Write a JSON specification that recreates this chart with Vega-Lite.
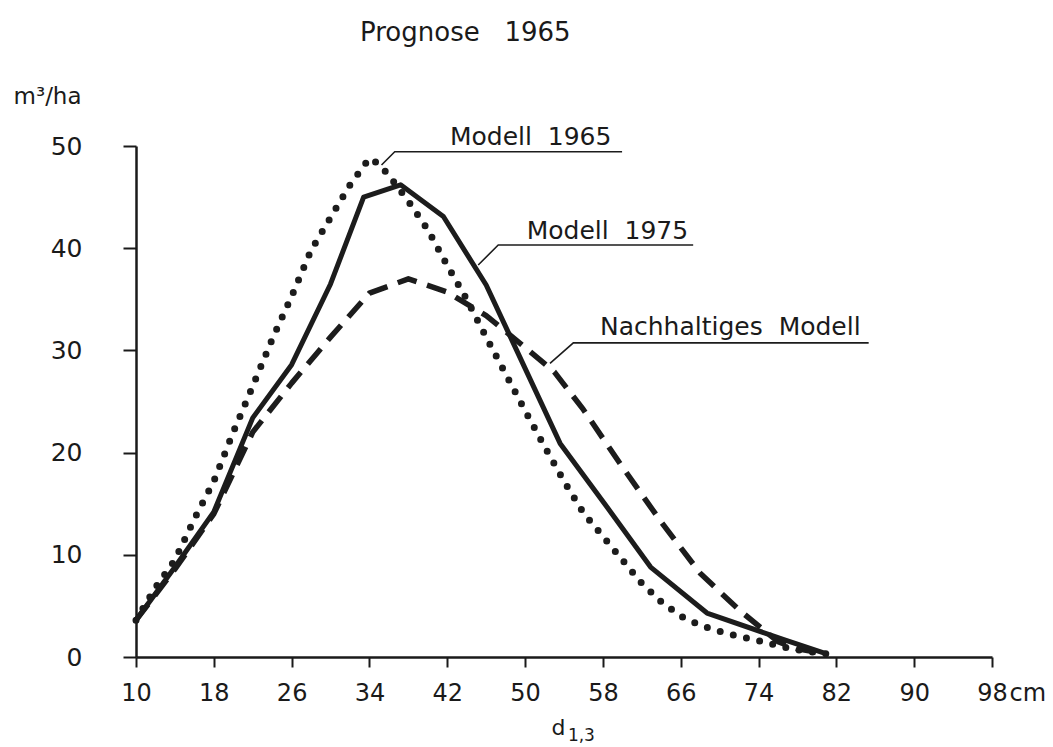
{
  "$schema": "https://vega.github.io/schema/vega-lite/v6.json",
  "autosize": {"type": "none"},
  "padding": {"left": 136, "top": 146, "right": 61, "bottom": 90},
  "width": 856,
  "height": 511,
  "background": "white",
  "config": {"view": {"stroke": null}, "font": "DejaVu Sans"},
  "title": {"text": "Prognose\u00a0\u00a0 1965", "anchor": "start", "frame": "group", "dx": 224, "offset": 18, "baseline": "alphabetic", "fontSize": 26, "fontWeight": "normal", "color": "#1a1a1a", "font": "DejaVu Sans"},
  "datasets": {
    "curves": [
      {"series": "Modell 1975", "d": 10, "v": 3.6},
      {"series": "Modell 1975", "d": 14, "v": 8.8},
      {"series": "Modell 1975", "d": 18, "v": 14.2},
      {"series": "Modell 1975", "d": 22, "v": 23.4},
      {"series": "Modell 1975", "d": 26, "v": 28.6},
      {"series": "Modell 1975", "d": 30, "v": 36.5},
      {"series": "Modell 1975", "d": 33.4, "v": 45.0},
      {"series": "Modell 1975", "d": 37.2, "v": 46.2},
      {"series": "Modell 1975", "d": 41.6, "v": 43.1},
      {"series": "Modell 1975", "d": 46, "v": 36.4},
      {"series": "Modell 1975", "d": 53.6, "v": 20.9},
      {"series": "Modell 1975", "d": 58.4, "v": 14.7},
      {"series": "Modell 1975", "d": 62.9, "v": 8.8},
      {"series": "Modell 1975", "d": 68.7, "v": 4.3},
      {"series": "Modell 1975", "d": 76.6, "v": 1.7},
      {"series": "Modell 1975", "d": 81, "v": 0.3},
      {"series": "Modell 1965", "d": 10, "v": 3.6},
      {"series": "Modell 1965", "d": 12, "v": 6.8},
      {"series": "Modell 1965", "d": 14, "v": 9.5},
      {"series": "Modell 1965", "d": 16, "v": 13.5},
      {"series": "Modell 1965", "d": 18, "v": 17.2},
      {"series": "Modell 1965", "d": 20, "v": 22.0},
      {"series": "Modell 1965", "d": 22, "v": 26.5},
      {"series": "Modell 1965", "d": 24, "v": 31.1},
      {"series": "Modell 1965", "d": 26, "v": 35.3},
      {"series": "Modell 1965", "d": 28, "v": 39.8},
      {"series": "Modell 1965", "d": 30, "v": 43.0},
      {"series": "Modell 1965", "d": 32, "v": 46.2},
      {"series": "Modell 1965", "d": 34, "v": 48.8},
      {"series": "Modell 1965", "d": 35, "v": 48.2},
      {"series": "Modell 1965", "d": 36, "v": 47.1},
      {"series": "Modell 1965", "d": 38, "v": 44.6},
      {"series": "Modell 1965", "d": 40, "v": 41.8},
      {"series": "Modell 1965", "d": 42, "v": 38.3},
      {"series": "Modell 1965", "d": 44, "v": 35.0},
      {"series": "Modell 1965", "d": 46, "v": 31.3},
      {"series": "Modell 1965", "d": 48, "v": 27.7},
      {"series": "Modell 1965", "d": 50, "v": 24.1},
      {"series": "Modell 1965", "d": 52, "v": 20.6},
      {"series": "Modell 1965", "d": 54, "v": 17.2},
      {"series": "Modell 1965", "d": 56, "v": 14.1},
      {"series": "Modell 1965", "d": 58, "v": 11.8},
      {"series": "Modell 1965", "d": 60, "v": 9.5},
      {"series": "Modell 1965", "d": 62, "v": 7.2},
      {"series": "Modell 1965", "d": 64, "v": 5.4},
      {"series": "Modell 1965", "d": 66, "v": 4.0},
      {"series": "Modell 1965", "d": 68, "v": 3.1},
      {"series": "Modell 1965", "d": 70, "v": 2.5},
      {"series": "Modell 1965", "d": 72, "v": 2.0},
      {"series": "Modell 1965", "d": 74, "v": 1.6},
      {"series": "Modell 1965", "d": 76, "v": 1.1},
      {"series": "Modell 1965", "d": 78, "v": 0.7},
      {"series": "Modell 1965", "d": 81, "v": 0.3},
      {"series": "Nachhaltiges Modell", "d": 10, "v": 3.6},
      {"series": "Nachhaltiges Modell", "d": 14, "v": 8.6},
      {"series": "Nachhaltiges Modell", "d": 18, "v": 14.0},
      {"series": "Nachhaltiges Modell", "d": 22, "v": 22.0},
      {"series": "Nachhaltiges Modell", "d": 26, "v": 26.8},
      {"series": "Nachhaltiges Modell", "d": 30, "v": 31.3},
      {"series": "Nachhaltiges Modell", "d": 34, "v": 35.6},
      {"series": "Nachhaltiges Modell", "d": 38, "v": 37.0},
      {"series": "Nachhaltiges Modell", "d": 42, "v": 35.7},
      {"series": "Nachhaltiges Modell", "d": 46, "v": 33.4},
      {"series": "Nachhaltiges Modell", "d": 50, "v": 30.3},
      {"series": "Nachhaltiges Modell", "d": 53, "v": 27.9},
      {"series": "Nachhaltiges Modell", "d": 56, "v": 24.2},
      {"series": "Nachhaltiges Modell", "d": 60, "v": 18.6},
      {"series": "Nachhaltiges Modell", "d": 64, "v": 13.2},
      {"series": "Nachhaltiges Modell", "d": 68, "v": 8.2},
      {"series": "Nachhaltiges Modell", "d": 72, "v": 4.6},
      {"series": "Nachhaltiges Modell", "d": 76, "v": 1.5},
      {"series": "Nachhaltiges Modell", "d": 78, "v": 0.8},
      {"series": "Nachhaltiges Modell", "d": 81, "v": 0.3}
    ],
    "leaders": [
      {"label": "Modell 1965", "d": 35.24, "v": 48.14},
      {"label": "Modell 1965", "d": 36.6, "v": 49.44},
      {"label": "Modell 1965", "d": 59.97, "v": 49.44},
      {"label": "Modell 1975", "d": 45.18, "v": 38.36},
      {"label": "Modell 1975", "d": 47.24, "v": 40.31},
      {"label": "Modell 1975", "d": 67.28, "v": 40.31},
      {"label": "Nachhaltiges Modell", "d": 52.56, "v": 28.74},
      {"label": "Nachhaltiges Modell", "d": 54.96, "v": 30.74},
      {"label": "Nachhaltiges Modell", "d": 85.32, "v": 30.74}
    ],
    "texts": [
      {"kind": "label", "text": "Modell\u00a0 1965", "d": 42.27, "v": 50.1},
      {"kind": "label", "text": "Modell\u00a0 1975", "d": 50.16, "v": 40.87},
      {"kind": "label", "text": "Nachhaltiges\u00a0 Modell", "d": 57.7, "v": 31.5},
      {"kind": "unit", "text": "cm", "d": 99.8, "v": -4.3},
      {"kind": "sub", "text": "1,3", "d": 54.4, "v": -8.2}
    ]
  },
  "encoding": {
    "x": {
      "field": "d", "type": "quantitative",
      "scale": {"domain": [10, 98], "nice": false, "zero": false},
      "axis": {
        "values": [10, 18, 26, 34, 42, 50, 58, 66, 74, 82, 90, 98],
        "title": "d", "titleX": 422, "titleY": 77, "titleAlign": "center", "titleBaseline": "alphabetic",
        "titleFontSize": 22, "titleFontWeight": "normal", "titleColor": "#1a1a1a", "titleFont": "DejaVu Sans",
        "labelFontSize": 24, "labelPadding": 14, "labelColor": "#1a1a1a", "labelFont": "DejaVu Sans", "labelFlush": false,
        "tickSize": 10, "tickWidth": 2, "tickColor": "#1a1a1a",
        "domainWidth": 2.5, "domainColor": "#1a1a1a", "grid": false
      }
    },
    "y": {
      "field": "v", "type": "quantitative",
      "scale": {"domain": [0, 50], "nice": false, "zero": false},
      "axis": {
        "values": [0, 10, 20, 30, 40, 50],
        "title": "m³/ha", "titleAngle": 0, "titleX": -123, "titleY": -43, "titleAlign": "left", "titleBaseline": "alphabetic",
        "titleFontSize": 23, "titleFontWeight": "normal", "titleColor": "#1a1a1a", "titleFont": "DejaVu Sans",
        "labelFontSize": 25, "labelPadding": 41, "labelColor": "#1a1a1a", "labelFont": "DejaVu Sans", "labelBaseline": "middle",
        "tickSize": 13, "tickWidth": 2, "tickColor": "#1a1a1a",
        "domainWidth": 2.5, "domainColor": "#1a1a1a", "grid": false
      }
    }
  },
  "layer": [
    {
      "data": {"name": "curves"},
      "transform": [{"filter": "datum.series == 'Nachhaltiges Modell'"}],
      "mark": {"type": "line", "color": "#1c1c1c", "strokeWidth": 5.5, "strokeDash": [20, 11], "strokeJoin": "round"}
    },
    {
      "data": {"name": "curves"},
      "transform": [{"filter": "datum.series == 'Modell 1965'"}],
      "mark": {"type": "line", "color": "#1c1c1c", "strokeWidth": 7, "strokeDash": [0, 13.5], "strokeCap": "round"}
    },
    {
      "data": {"name": "curves"},
      "transform": [{"filter": "datum.series == 'Modell 1975'"}],
      "mark": {"type": "line", "color": "#1c1c1c", "strokeWidth": 5, "strokeJoin": "round"}
    },
    {
      "data": {"name": "leaders"},
      "mark": {"type": "line", "color": "#1c1c1c", "strokeWidth": 1.6},
      "encoding": {"detail": {"field": "label"}}
    },
    {
      "data": {"name": "texts"},
      "transform": [{"filter": "datum.kind == 'label'"}],
      "mark": {"type": "text", "align": "left", "baseline": "alphabetic", "fontSize": 25, "font": "DejaVu Sans", "color": "#1a1a1a"},
      "encoding": {"text": {"field": "text"}}
    },
    {
      "data": {"name": "texts"},
      "transform": [{"filter": "datum.kind == 'unit'"}],
      "mark": {"type": "text", "align": "left", "baseline": "alphabetic", "fontSize": 24, "font": "DejaVu Sans", "color": "#1a1a1a"},
      "encoding": {"text": {"field": "text"}}
    },
    {
      "data": {"name": "texts"},
      "transform": [{"filter": "datum.kind == 'sub'"}],
      "mark": {"type": "text", "align": "left", "baseline": "alphabetic", "fontSize": 17, "font": "DejaVu Sans", "color": "#1a1a1a"},
      "encoding": {"text": {"field": "text"}}
    }
  ]
}
